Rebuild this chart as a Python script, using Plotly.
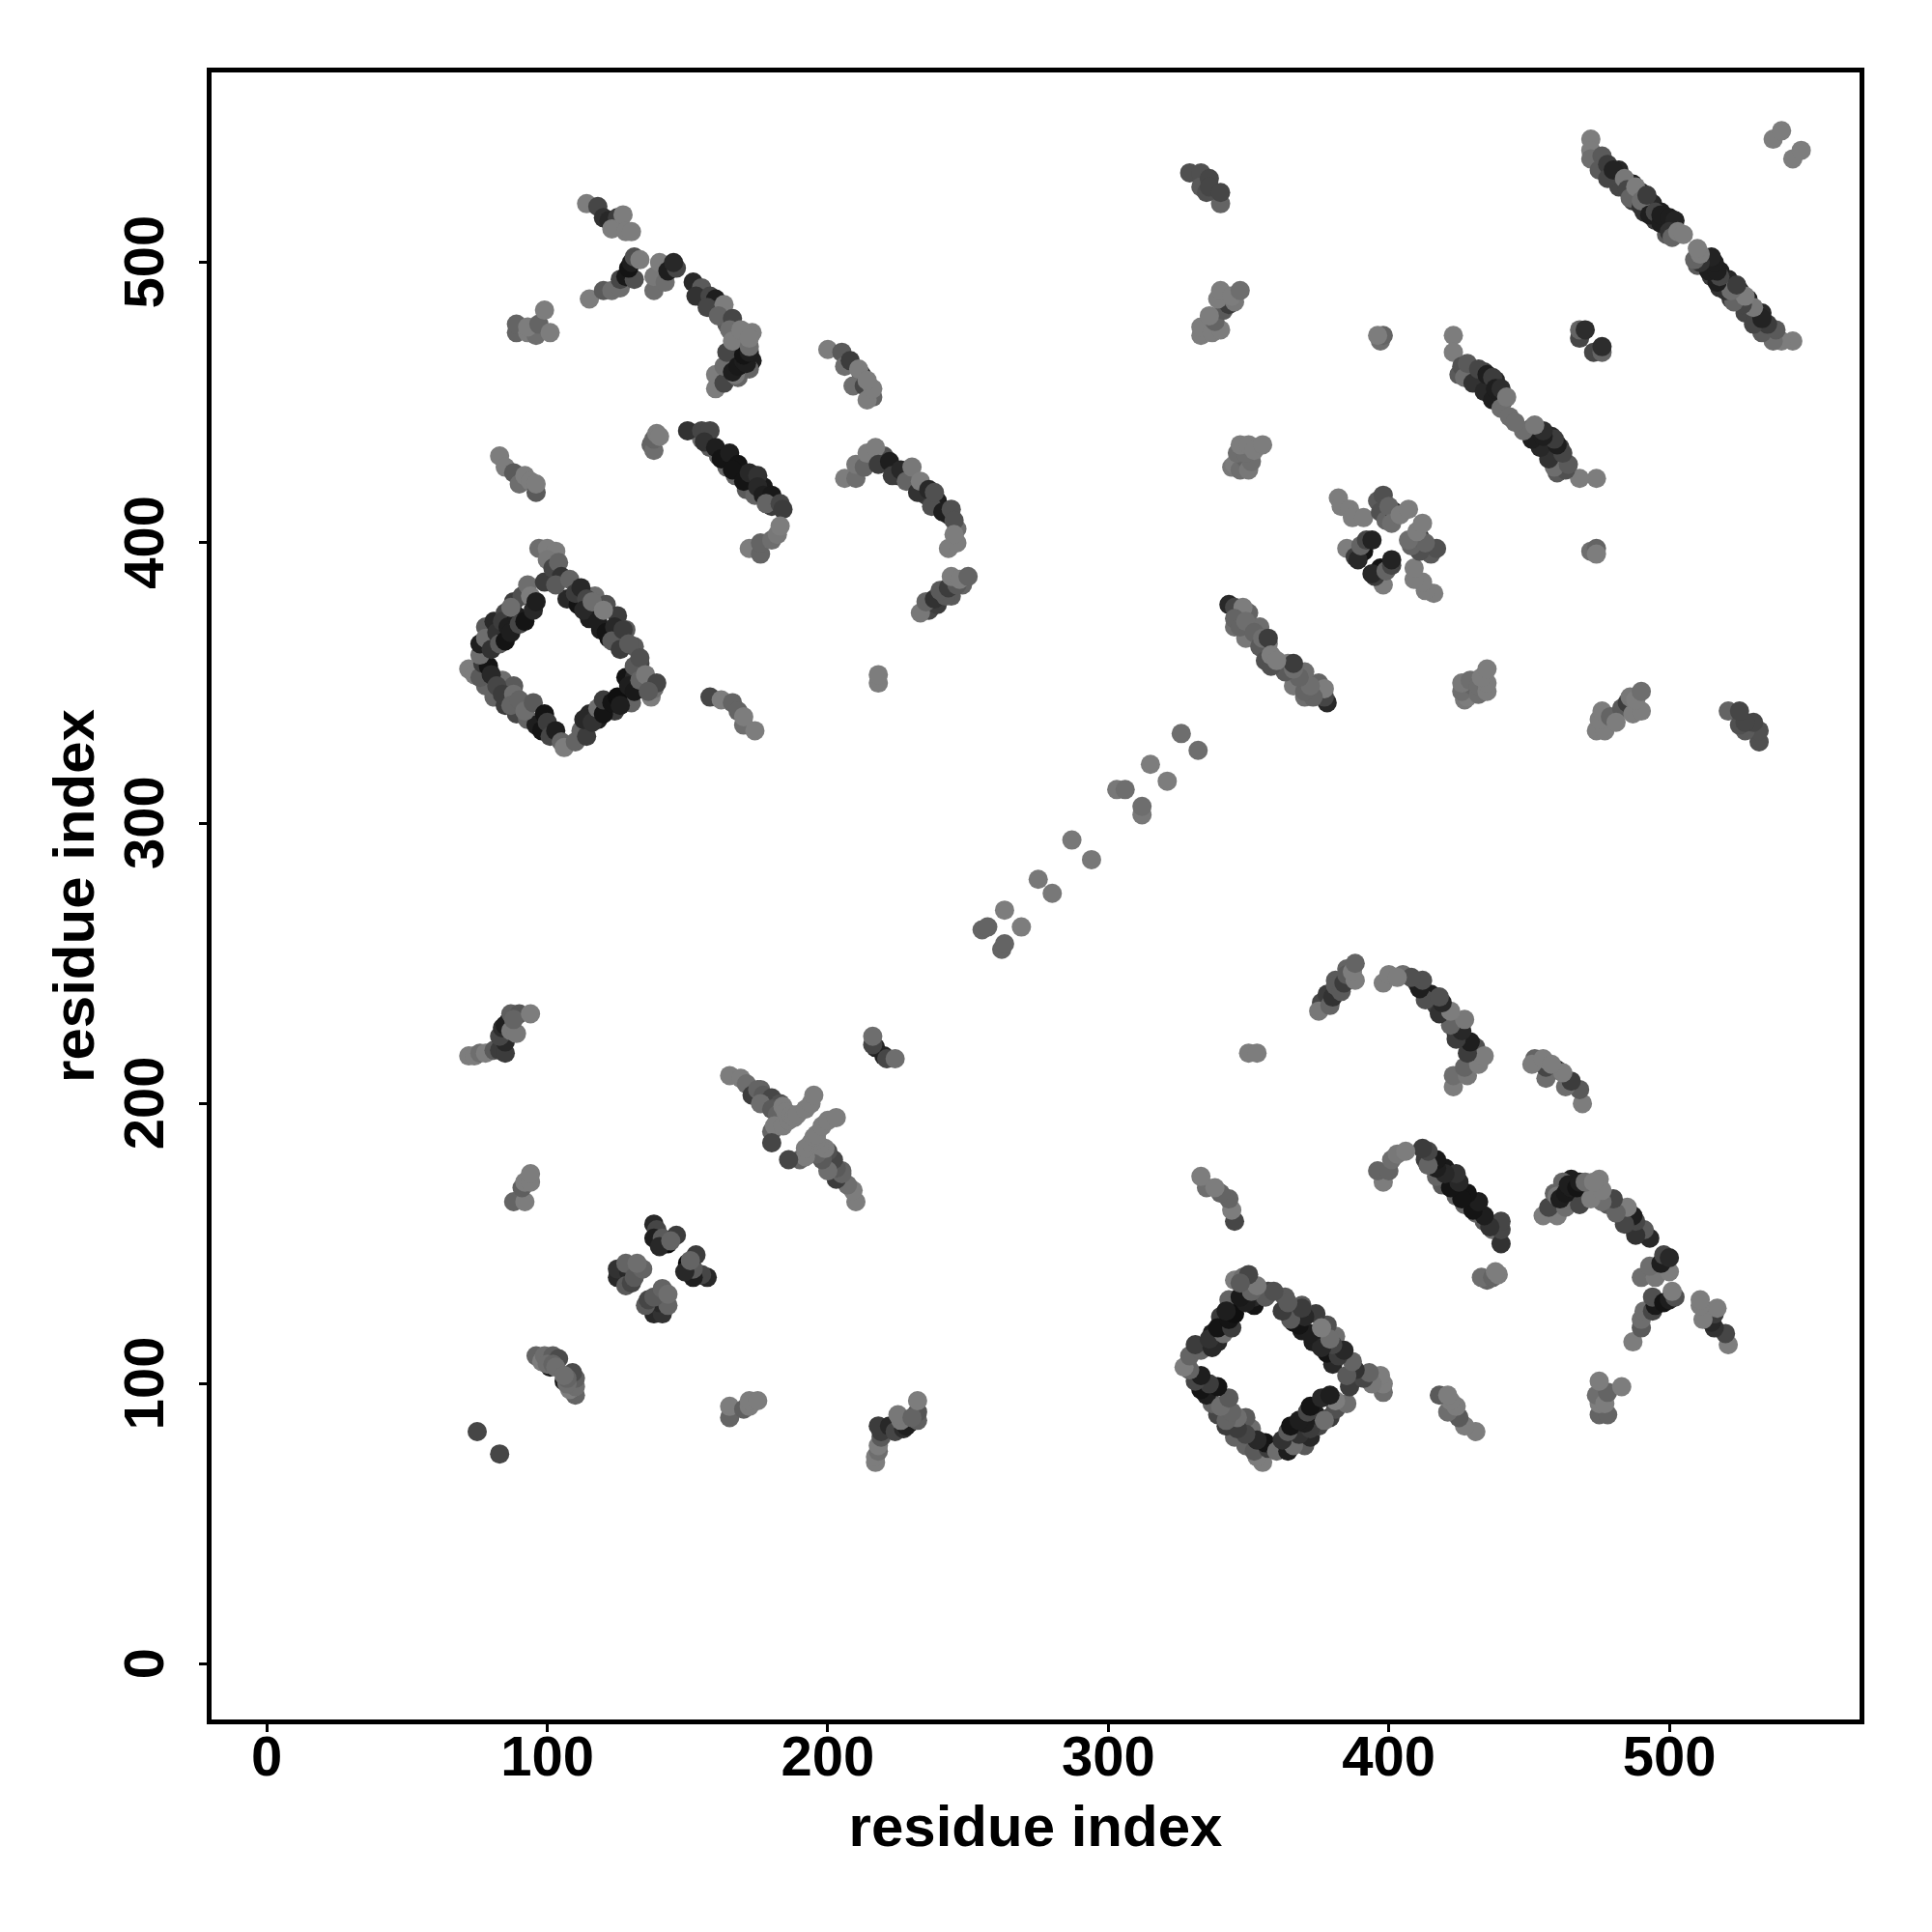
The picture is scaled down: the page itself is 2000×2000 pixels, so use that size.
import plotly.graph_objects as go

# Contacts (residue i, residue j, shade of grey); each one is a symmetric pair (i,j)/(j,i)
far_pair = [(75, 83, 70)]
block_a = [(72,217,125),(74,217,125),(76,218,110),(78,218,125),(81,219,90),(83,219,60),(85,218,60),(85,222,40),(83,224,70),(84,227,45),(86,229,35),(85,228,30),(87,226,120),(89,225,120),(87,232,95),(90,232,85),(88,230,100),(94,232,125)]
block_b = [(88,165,100),(92,165,125),(91,170,95),(92,172,125),(94,172,125),(94,175,125)]
block_c = [(96,110,100),(98,108,125),(99,110,110),(102,110,95),(104,109,75),(101,106,30),(100,107,110),(102,107,100),(103,106,110)]
rosette_low = [(138,157,40),(139,155,70),(138,152,30),(143,150,10),(141,152,90),(140,149,40),(146,153,60),(144,151,100),
               (125,138,40),(125,141,50),(129,140,40),(128,143,100),(128,135,90),(130,136,70),(131,138,90),(134,141,100),(132,143,110)]
cross = [(165,210,125),(169,209,125),(171,207,110),(173,203,60),(176,205,100),(175,205,100),(177,203,90),(178,200,60),(180,202,70),(183,200,80),(176,200,110),(180,198,90),(182,196,100),(180,190,100),(181,192,125),(180,186,70),(184,192,125),(186,194,125),(184,199,125),(185,197,125),(187,196,125),(188,195,125),(189,196,125),(192,198,125),(194,200,125),(195,203,125)]
near_220 = [(217,220,35),(216,221,70),(216,224,110)]
t_a = [(114,521,125),(118,520,70),(120,516,50),(122,515,40),(125,516,60),(126,513,70),(123,512,125),(127,517,125),(128,511,125),(130,511,125)]
t_b = [(115,487,125),(120,490,90),(123,490,110),(126,491,110),(126,494,70),(128,495,25),(131,494,80),(129,498,20),(130,500,30),(131,502,80),(133,501,125)]
t_c = [(138,490,110),(138,495,120),(142,493,110),(140,500,125),(143,497,30),(146,498,70),(145,500,40)]
t_d = [(156,487,60),(160,483,40),(164,478,90),(168,472,100),(173,475,125),(168,468,20),(173,465,30),(172,462,100),
       (152,493,40),(155,491,90),(153,488,50),(158,488,70),(160,487,30),(157,484,70),(163,485,125),(161,481,100),(166,480,70),(165,476,110),
       (160,460,125),(160,455,125),(163,457,70),(163,463,110),(168,459,100),(167,460,120),(164,468,70),(166,461,30),(168,463,25),(170,465,30),(171,464,30),(170,467,20),(172,468,30),(166,472,125),(172,470,110),(169,476,125),(172,473,125)]
t_e = [(89,475,100),(89,478,100),(93,475,125),(96,474,110),(93,477,125),(97,478,100),(101,475,125),(99,483,125)]
t_f = [(200,469,125),(205,468,90),(206,463,110),(208,465,60),(212,460,50),(209,456,110),(213,456,70),(216,452,100),(214,451,125),(216,455,125),(211,462,125),(214,458,125)]
t_g = [(137,435,100),(138,433,110),(138,437,100),(139,439,125),(140,438,125)]
t_h = [(165,429,20),(172,421,15),(177,420,25),(180,413,60),
       (155,437,110),(158,434,90),(161,431,100),(164,427,100),(167,424,100),(171,419,90),(174,417,100),
       (150,440,50),(155,440,70),(158,440,70),(156,436,50),(160,434,30),(162,430,20),(165,432,30),(168,428,20),(166,426,20),(170,422,20),(172,425,40),(175,424,50),(175,420,40),(177,417,30),(180,417,25),(178,414,100),(183,414,70),(184,412,60)]
t_i = [(172,398,125),(176,396,100),(176,400,100),(180,401,110),(182,403,120),(183,406,125)]
t_j = [(215,429,110),(220,431,80),(225,424,40),(229,424,60),(235,417,60),(239,415,30),(243,410,50),(246,405,110),
       (206,423,125),(210,423,110),(210,428,120),(213,427,100),(214,432,125),(217,434,125),(218,428,60),(222,429,30),(223,424,60),(226,426,40),(228,422,100),(230,427,120),(232,418,50),(233,422,125),(236,419,40),(237,413,80),(238,418,80),(241,411,30),(244,412,80),(245,408,80),(243,398,125),(246,400,125),(245,403,125)]
t_k = [(236,376,70),(239,378,60),(244,381,90),(248,385,100),
       (233,375,120),(235,379,100),(238,380,50),(242,381,90),(240,383,90),(243,384,60),(246,385,90),(244,388,125),(247,387,125),(250,388,100)]
t_l = [(83,431,125),(85,427,125),(88,425,90),(90,421,110),(92,424,125),(94,422,125),(96,418,90),(96,421,125)]
t_m = [(218,350,125),(218,353,125)]
t_n = [(158,345,70),(162,344,125),(166,343,100),(168,340,100),(170,335,110),(170,338,125),(174,333,125)]
diamond_extra = [(78,370,90),(81,372,40),(85,375,70),(88,379,60),(91,381,80),(93,385,110),
                 (107,380,40),(111,378,20),(115,373,30),(119,369,30),(122,366,20),(117,381,110),(121,378,80),(125,374,60),(128,369,90),(131,363,90),(133,357,70),
                 (78,349,100),(81,345,100),(85,342,60),(89,339,70),(93,337,100),(96,335,30),(98,333,20),(84,351,110),(88,349,90),
                 (115,339,40),(118,337,30),(121,341,20),(124,340,60),(127,345,20),(130,343,100),(128,352,20),(131,352,40)]
diamond = [(72,355,125),(74,353,125),(76,352,90),(77,357,60),(79,356,20),(76,360,110),(76,364,30),(78,366,110),(80,362,50),(82,368,50),(83,364,90),(85,365,20),(84,372,60),(86,370,30),(87,368,30),(89,374,30),(87,377,110),(90,371,70),(92,372,20),(94,381,125),(95,376,40),(96,379,30),
           (99,386,60),(97,398,110),(100,398,125),(103,397,125),(100,394,120),(102,391,70),(104,393,100),(105,388,50),(103,385,90),(108,387,100),(110,382,60),(112,384,40),(114,380,70),(113,376,40),(116,379,110),(118,372,30),(120,376,125),(121,368,20),(124,370,40),(123,365,90),(127,369,60),(126,362,60),(129,364,90),(131,356,90),(133,359,80),
           (80,353,40),(82,349,70),(84,346,60),(88,346,110),(87,342,100),(90,344,100),(92,340,110),(95,343,90),(99,339,20),(100,336,60),(101,331,70),(103,333,30),(105,329,100),(106,327,125),
           (110,329,100),(112,333,100),(114,331,60),(113,337,40),(116,336,50),(118,341,110),(120,339,20),(120,344,60),(123,343,20),(125,345,15),(126,342,30),(129,349,30),(131,347,25),(133,351,100),(135,353,120),(137,345,125),(138,348,110),(139,350,70),(136,347,90)]
c_diag = [(255,262,100),(257,263,100),(263,269,125),(275,280,120),(287,294,120),(303,312,120),(306,312,110),(315,321,125),(326,332,110)]
u_a = [(476,533,90),(480,530,60),(482,527,70),(487,522,60),(491,518,50),(495,515,60),(499,510,90),(482,533,40),(487,528,30),(490,525,40),(494,521,40),(497,518,30),
       (472,544,125),(472,540,125),(472,537,110),(476,538,90),(475,533,90),(478,535,60),(478,530,70),(480,533,35),(484,530,120),(485,526,70),(486,523,100),(488,527,125),(490,520,50),(490,522,110),(492,524,60),(493,517,30),(495,518,70),(497,514,30),(497,517,30),(500,516,30),(502,515,35),(500,511,50),(501,509,100),(503,511,125),(505,510,125)]
u_b = [(537,544,125),(540,547,125)]
u_c = [(329,532,80),(333,532,80),(340,521,100),(333,527,90),(336,530,70),(335,525,80),(336,527,70),(340,525,70)]
u_d = [(333,474,125),(333,477,125),(337,475,125),(340,476,125),(338,479,100),(341,483,90),(336,481,125),(343,485,60),(339,487,125),(340,490,125),(345,486,120),(344,488,125),(347,490,110)]
u_e = [(397,472,110),(398,474,100),(396,474,125)]
u_f = [(468,473,70),(468,476,100),(470,476,45)]
u_g = [(429,460,70),(433,457,30),(436,453,30),(441,451,50),(434,461,60),(438,458,40),(425,460,90),
       (423,474,125),(423,468,125),(426,463,80),(427,459,110),(428,464,90),(430,457,50),(432,462,70),(434,454,40),(435,460,30),(437,459,60),(437,451,30),(438,455,30),(440,455,45),(440,448,110),(442,452,120),(443,445,110)]
u_h = [(382,416,125),(383,413,125),(386,412,125),(387,409,125),(391,409,125),
       (396,415,90),(398,417,80),(397,411,80),(399,408,100),(402,411,50),(400,413,100),(401,407,110),(404,410,125),(407,412,125),
       (385,398,125),(388,395,60),(391,397,20),(389,394,40),(390,399,100),(392,401,70),(394,401,35)]
u_i = [(346,375,60),(350,369,110),(353,366,100),(350,375,100),(354,370,110),(357,364,125),(349,366,120),(345,370,110),
       (343,378,40),(345,377,70),(348,377,125),(345,373,100),(347,370,100),(349,372,110),(352,368,100),(354,363,90),(355,366,110),(356,358,80),(357,366,60),(358,360,125)]
u_j = [(344,427,120),(345,428,125),(347,426,110),(349,430,100),(350,426,120),(351,429,110),(346,432,110),(349,432,110),(347,435,125),(350,435,125),(352,433,125),(355,435,125)]

contact_groups = [far_pair, block_a, block_b, block_c, rosette_low, cross, near_220, t_a, t_b, t_c, t_d, t_e, t_f, t_g, t_h, t_i, t_j, t_k, t_l, t_m, t_n, diamond_extra, diamond, c_diag, u_a, u_b, u_c, u_d, u_e, u_f, u_g, u_h, u_i, u_j]
tick_vals = [0, 100, 200, 300, 400, 500]
x_tick_labels = ["0", "100", "200", "300", "400", "500"]
y_tick_labels = ["0\u00a0", "100\u00a0", "200\u00a0", "300\u00a0", "400\u00a0", "500\u00a0"]
axis_title = "residue index"

xs, ys, cs = [], [], []
for group in contact_groups:
    for i, j, g in group:
        xs += [i, j]
        ys += [j, i]
        cs += [f"rgb({g},{g},{g})"] * 2

fig = go.Figure(go.Scatter(x=xs, y=ys, mode="markers", marker=dict(size=20, color=cs, line=dict(width=0)), hoverinfo="skip"))

FONT = "Liberation Sans"
axis = dict(range=[-19.7, 567.8], tickvals=tick_vals, ticks="outside", ticklen=8, tickwidth=3, tickcolor="black",
            showgrid=False, zeroline=False,
            showline=True, linecolor="black", linewidth=5, mirror=True,
            title=dict(text=axis_title, font=dict(family=FONT, size=60, color="black", weight="bold")),
            tickfont=dict(family=FONT, size=58, color="black", weight="bold"))
fig.update_layout(width=2000, height=2000, autosize=False, showlegend=False,
                  margin=dict(l=211, r=83, t=67, b=228, autoexpand=False),
                  plot_bgcolor="white", paper_bgcolor="white",
                  xaxis=dict(axis, ticktext=x_tick_labels, ticklabelstandoff=-25, title_standoff=22),
                  yaxis=dict(axis, ticktext=y_tick_labels, tickangle=-90, ticklabelstandoff=14, title_standoff=0))
fig.write_html("out.html")
